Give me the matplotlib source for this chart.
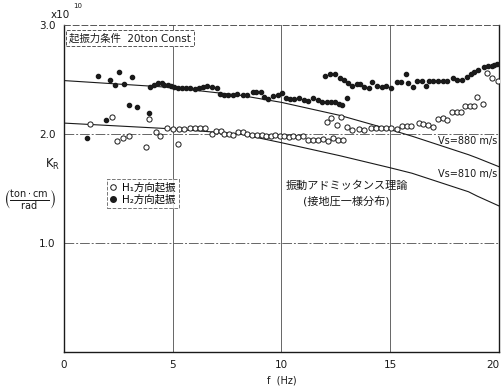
import matplotlib
matplotlib.use("Agg")
import matplotlib.pyplot as plt

plt.rcParams['font.family'] = ['DejaVu Sans', 'Noto Sans CJK JP']

# H1 方向起振 (open circles)
h1_f = [1.21, 2.22, 2.42, 2.73, 2.99, 3.77, 3.92, 4.24, 4.43, 4.74, 5.0, 5.24, 5.29,
        5.52, 5.79, 6.02, 6.25, 6.5, 6.79, 6.99, 7.22, 7.37, 7.59, 7.78, 8.01, 8.24,
        8.43, 8.63, 8.86, 9.09, 9.3, 9.5, 9.71, 9.93, 10.13, 10.33, 10.54, 10.77,
        11.0, 11.23, 11.46, 11.69, 11.92, 12.15, 12.38, 12.6, 12.81,
        12.08, 12.28, 12.54, 12.74, 13.03, 13.26, 13.58, 13.79, 14.1, 14.33, 14.56,
        14.79, 15.02, 15.32, 15.54, 15.76, 15.97, 16.31, 16.52, 16.74, 16.95, 17.18,
        17.41, 17.62, 17.83, 18.06, 18.24, 18.44, 18.67, 18.85, 19.0, 19.25, 19.43,
        19.69, 19.94]
h1_k = [2.089, 2.153, 1.939, 1.961, 1.982, 1.878, 2.138, 2.016, 1.982, 2.055, 2.046,
        1.906, 2.046, 2.043, 2.058, 2.058, 2.058, 2.058, 2.0, 2.03, 2.028, 2.0, 1.997,
        1.991, 2.016, 2.021, 2.003, 1.991, 1.991, 1.991, 1.979, 1.979, 1.991, 1.979,
        1.979, 1.975, 1.979, 1.975, 1.979, 1.945, 1.948, 1.948, 1.954, 1.936, 1.961,
        1.945, 1.945,
        2.113, 2.144, 2.085, 2.159, 2.062, 2.037, 2.046, 2.037, 2.058, 2.058, 2.058,
        2.058, 2.058, 2.046, 2.071, 2.071, 2.071, 2.101, 2.089, 2.083, 2.064, 2.138,
        2.15, 2.131, 2.199, 2.205, 2.205, 2.26, 2.26, 2.26, 2.337, 2.278, 2.557,
        2.511, 2.489]

# H2 方向起振 (filled circles)
h2_f = [1.08, 1.55, 1.94, 2.13, 2.34, 2.54, 2.77, 2.99, 3.13, 3.36, 3.89, 3.95,
        4.14, 4.32, 4.51, 4.6, 4.8, 4.92, 5.06, 5.24, 5.43, 5.6, 5.79, 6.01, 6.19,
        6.39, 6.59, 6.82, 7.03, 7.17, 7.36, 7.56, 7.75, 7.97, 8.22, 8.43, 8.68, 8.83,
        9.06, 9.21, 9.39, 9.62, 9.83, 10.04, 10.22, 10.39, 10.59, 10.8, 11.02, 11.23,
        11.46, 11.66, 11.88, 12.08, 12.28, 12.47, 12.66, 12.8, 13.01,
        11.99, 12.23, 12.46, 12.68, 12.87, 13.07, 13.26, 13.49, 13.61, 13.81, 14.04,
        14.16, 14.39, 14.62, 14.8, 15.03, 15.32, 15.49, 15.71, 15.83, 16.03, 16.24,
        16.45, 16.63, 16.77, 16.98, 17.2, 17.41, 17.62, 17.87, 18.07, 18.31, 18.53,
        18.7, 18.85, 19.02, 19.31, 19.48, 19.66, 19.77, 19.92]
h2_k = [1.966, 2.535, 2.124, 2.494, 2.452, 2.572, 2.463, 2.263, 2.523, 2.248, 2.19,
        2.428, 2.452, 2.465, 2.468, 2.45, 2.447, 2.44, 2.428, 2.425, 2.419, 2.419,
        2.419, 2.413, 2.422, 2.428, 2.44, 2.434, 2.425, 2.367, 2.355, 2.358, 2.358,
        2.37, 2.361, 2.361, 2.383, 2.388, 2.388, 2.34, 2.324, 2.351, 2.355, 2.376,
        2.333, 2.318, 2.318, 2.327, 2.309, 2.303, 2.327, 2.312, 2.296, 2.294, 2.294,
        2.294, 2.272, 2.266, 2.327,
        2.532, 2.548, 2.55, 2.517, 2.495, 2.465, 2.443, 2.461, 2.456, 2.434, 2.419,
        2.48, 2.44, 2.428, 2.443, 2.422, 2.474, 2.474, 2.548, 2.47, 2.434, 2.483,
        2.483, 2.438, 2.486, 2.486, 2.486, 2.486, 2.486, 2.511, 2.493, 2.495, 2.526,
        2.548, 2.572, 2.584, 2.617, 2.624, 2.624, 2.633, 2.642]

# 振動アドミッタンス理論
th_f = [0, 4.7, 8.1, 10, 12.7, 15, 16, 18.6, 19, 20]
vs880_k = [2.49, 2.43, 2.355, 2.29, 2.17, 2.04, 1.98, 1.81, 1.78, 1.70]
vs810_k = [2.10, 2.05, 2.0, 1.92, 1.80, 1.69, 1.64, 1.47, 1.43, 1.34]

xticks = [0, 5, 10, 15, 20]
yticks = [1.0, 2.0, 3.0]

fig = plt.figure(figsize=(5.03, 3.88), dpi=100)
ax = fig.add_axes([0.1272, 0.0928, 0.8648, 0.8428])
ax.set_xlim(0, 20)
ax.set_ylim(0, 3.0)

ink = '#1a1a1a'

# grid
for xv in xticks[1:-1]:
    ax.axvline(xv, color='#666666', lw=0.7, zorder=1)
for yv in yticks[:-1]:
    ax.axhline(yv, color='#666666', lw=0.7, ls=(0, (10, 2, 2, 2)), zorder=1)

ax.plot(th_f, vs880_k, color=ink, lw=0.8, zorder=2)
ax.plot(th_f, vs810_k, color=ink, lw=0.8, zorder=2)

ax.scatter(h1_f, h1_k, s=14, facecolors='white', edgecolors=ink, linewidths=0.7, zorder=3)
ax.scatter(h2_f, h2_k, s=9, color=ink, zorder=3)

for side in ['left', 'bottom', 'right']:
    ax.spines[side].set_color(ink)
    ax.spines[side].set_linewidth(1.0)
ax.spines['top'].set_color('#555555')
ax.spines['top'].set_linewidth(0.7)
ax.spines['top'].set_linestyle((0, (6, 3)))

ax.set_xticks(xticks)
ax.set_yticks(yticks)
ax.set_yticklabels(['1.0', '2.0', '3.0'])
ax.tick_params(length=0, labelsize=7.5, colors=ink, pad=6)
ax.get_xticklabels()[-1].set_horizontalalignment('right')
ax.set_xlabel('f  (Hz)', fontsize=7, color=ink, labelpad=4)

fig.text(0.100, 0.962, 'x10', fontsize=7.5, color=ink, ha='left', va='center')
fig.text(0.145, 0.984, '10', fontsize=5, color=ink, ha='left', va='center')
fig.text(0.090, 0.575, r'K$_\mathregular{R}$', fontsize=8.5, color=ink, ha='left', va='center')
fig.text(0.058, 0.483, r'$\left(\frac{\mathrm{ton\cdot cm}}{\mathrm{rad}}\right)$',
         fontsize=10, color=ink, ha='center', va='center')

ax.text(0.25, 2.88, '起振力条件  20ton Const', fontsize=7.5, color=ink, va='center',
        bbox=dict(boxstyle='square,pad=0.3', fc='white', ec='#555555', lw=0.7, ls='--'),
        zorder=4)

# legend
leg = ax.legend(handles=[
    plt.Line2D([], [], ls='', marker='o', ms=4, mfc='white', mec=ink, mew=0.7),
    plt.Line2D([], [], ls='', marker='o', ms=4, color=ink)],
    labels=['H\u2081方向起振', 'H\u2082方向起振'],
    loc='upper left', bbox_to_anchor=(0.098, 0.53), fontsize=7.5,
    frameon=True, fancybox=False, handlelength=0.6, handletextpad=0.6,
    borderpad=0.3, labelspacing=0.25, borderaxespad=0)
leg.get_frame().set_edgecolor('#555555')
leg.get_frame().set_linewidth(0.7)
leg.get_frame().set_linestyle('--')
leg.set_zorder(4)

ax.text(13.0, 1.53, '振動アドミッタンス理論', fontsize=8, color=ink, ha='center', va='center')
ax.text(13.0, 1.38, '(接地圧一様分布)', fontsize=8, color=ink, ha='center', va='center')
ax.text(19.9, 1.94, 'Vs=880 m/s', fontsize=7, color=ink, ha='right', va='center')
ax.text(19.9, 1.63, 'Vs=810 m/s', fontsize=7, color=ink, ha='right', va='center')

fig.savefig('out.png', dpi=100, facecolor='white')
